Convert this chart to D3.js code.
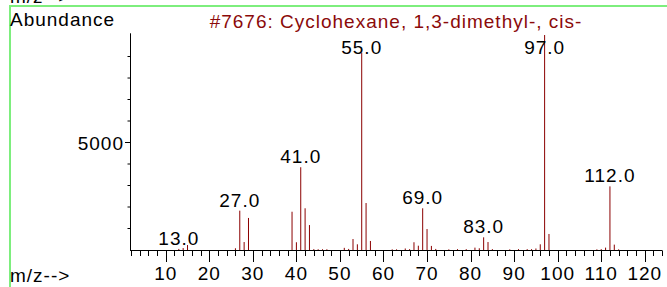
<!DOCTYPE html>
<html lang="en">
<head>
    <meta charset="UTF-8">
    <title>Mass spectrum</title>
    <style>
        html, body { margin: 0; padding: 0; background: #fff; }
        svg { display: block; font-family: "Liberation Sans", Arial, sans-serif; }
    </style>
</head>
<body>
    <svg id="chart" width="667" height="287"></svg>

    <script src="https://d3js.org/d3.v7.min.js"></script>
    <script>
        // m/z values and their abundance
        const mz = [13, 14, 15, 26, 27, 28, 29, 39, 40, 41, 42, 43, 44, 45, 46, 47,
                    51, 52, 53, 54, 55, 56, 57, 62, 63, 65, 66, 67, 68, 69, 70, 71, 72,
                    75, 77, 79, 81, 82, 83, 84, 85, 89, 91, 93, 94, 95, 96, 97, 98,
                    109, 110, 111, 112, 113, 114];
        const abundance = [50, 90, 230, 80, 1830, 370, 1490, 1780, 360, 3850, 1940, 1160, 40, 35, 35, 35,
                    100, 50, 510, 265, 9180, 2185, 420, 30, 30, 70, 40, 360, 200, 1940, 975, 190, 50,
                    30, 40, 40, 110, 80, 590, 370, 40, 30, 40, 40, 40, 70, 265, 10000, 745,
                    30, 40, 110, 2960, 250, 30];

        // peaks that carry a label
        const labelled = [13, 27, 41, 55, 69, 83, 97, 112];

        const title = "#7676: Cyclohexane, 1,3-dimethyl-, cis-";
        const xTickLabels = [10, 20, 30, 40, 50, 60, 70, 80, 90, 100, 110, 120];
        const yTickLabels = [5000];

        const svg = d3.select("#chart");

        const x = d3.scaleLinear().domain([0, 124]).range([122.2, 662.2]);
        const y = d3.scaleLinear().domain([0, 10080]).range([250, 33.3]);

        // green frame
        svg.append("rect")
            .attr("x", 10).attr("y", 6)
            .attr("width", 700).attr("height", 320)
            .attr("fill", "none")
            .attr("stroke", "#7dee7d")
            .attr("stroke-width", 2);

        // cut-off label peeking above the frame
        svg.append("text")
            .attr("x", 10).attr("y", 3)
            .attr("font-size", 19).attr("letter-spacing", 1)
            .text("m/z-->");

        svg.append("text")
            .attr("x", 10).attr("y", 26)
            .attr("font-size", 19).attr("letter-spacing", 1)
            .text("Abundance");

        svg.append("text")
            .attr("x", 396).attr("y", 28)
            .attr("text-anchor", "middle")
            .attr("font-size", 19).attr("letter-spacing", 1)
            .attr("fill", "#8b0a0a")
            .text(title);

        svg.append("text")
            .attr("x", 10).attr("y", 282)
            .attr("font-size", 19).attr("letter-spacing", 1)
            .text("m/z-->");

        // y axis
        svg.append("line")
            .attr("x1", 130.5).attr("x2", 130.5)
            .attr("y1", y(10080)).attr("y2", y(0))
            .attr("stroke", "#000");

        const yTicks = d3.range(1000, 10000, 1000);
        svg.selectAll(".ytick")
            .data(yTicks)
            .enter()
            .append("line")
            .attr("x1", d => yTickLabels.includes(d) ? 125 : 127.5)
            .attr("x2", 130.5)
            .attr("y1", d => y(d)).attr("y2", d => y(d))
            .attr("stroke", "#000");

        svg.selectAll(".ylab")
            .data(yTickLabels)
            .enter()
            .append("text")
            .attr("x", 124)
            .attr("y", d => y(d) + 7)
            .attr("text-anchor", "end")
            .attr("font-size", 19).attr("letter-spacing", 1)
            .text(d => d);

        // x axis
        svg.append("line")
            .attr("x1", 130).attr("x2", x(124))
            .attr("y1", 250.5).attr("y2", 250.5)
            .attr("stroke", "#000");

        const xTicks = d3.range(2, 125, 2);
        svg.selectAll(".xtick")
            .data(xTicks)
            .enter()
            .append("line")
            .attr("x1", d => Math.round(x(d)) + 0.5)
            .attr("x2", d => Math.round(x(d)) + 0.5)
            .attr("y1", 250.5)
            .attr("y2", d => xTickLabels.includes(d) ? 262 : 256)
            .attr("stroke", "#000");

        svg.selectAll(".xlab")
            .data(xTickLabels)
            .enter()
            .append("text")
            .attr("x", d => x(d))
            .attr("y", 280)
            .attr("text-anchor", "middle")
            .attr("font-size", 19).attr("letter-spacing", 1)
            .text(d => d);

        // spectrum lines
        const peaks = mz.map((m, i) => ({ m: m, v: abundance[i] }));
        svg.selectAll(".peak")
            .data(peaks)
            .enter()
            .append("line")
            .attr("x1", d => x(d.m)).attr("x2", d => x(d.m))
            .attr("y1", y(0)).attr("y2", d => y(d.v))
            .attr("stroke", "#8b0000")
            .attr("stroke-width", 1);

        // peak labels
        svg.selectAll(".plab")
            .data(peaks.filter(d => labelled.includes(d.m)))
            .enter()
            .append("text")
            .attr("x", d => x(d.m))
            .attr("y", d => Math.max(y(d.v) - 4, 54))
            .attr("text-anchor", "middle")
            .attr("font-size", 19).attr("letter-spacing", 1)
            .text(d => d.m.toFixed(1));
    </script>
</body>
</html>
